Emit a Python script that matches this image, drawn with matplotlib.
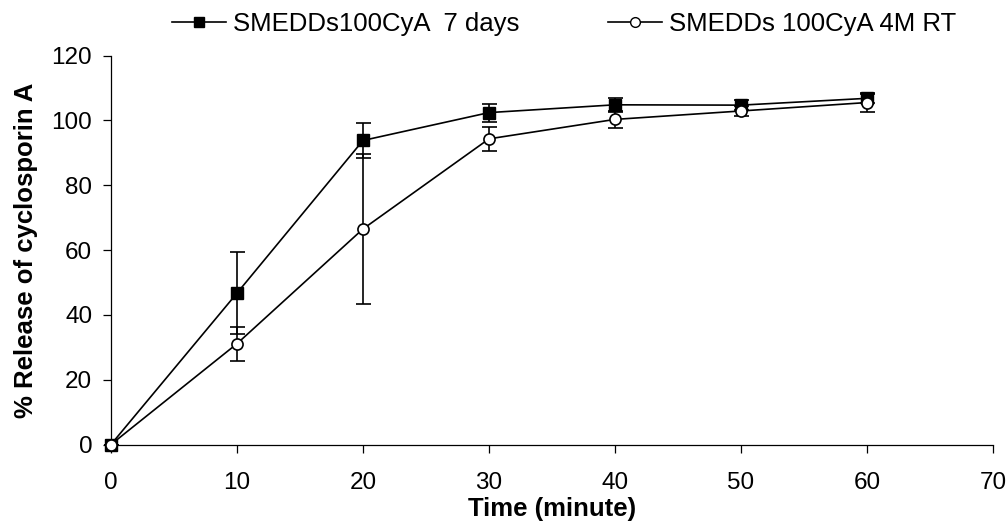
import matplotlib
matplotlib.use("Agg")
import matplotlib.pyplot as plt

plt.rcParams['font.family'] = ['Liberation Sans', 'DejaVu Sans']

time_min = [0, 10, 20, 30, 40, 50, 60]

# SMEDDs100CyA 7 days
rel_7d = [0, 46.7, 93.8, 102.4, 104.8, 104.7, 106.8]
err_7d = [0, 12.6, 5.3, 2.8, 2.1, 1.5, 1.3]

# SMEDDs 100CyA 4M RT
rel_4m = [0, 31.1, 66.5, 94.3, 100.3, 102.9, 105.5]
err_4m = [0, 5.2, 23.2, 3.6, 2.6, 1.6, 2.8]

labels = ['SMEDDs100CyA  7 days', 'SMEDDs 100CyA 4M RT']

fig = plt.figure(figsize=(10.07, 5.24), dpi=100)
ax = fig.add_axes([0.1102, 0.1517, 0.8759, 0.7423])

l1 = ax.errorbar(time_min, rel_7d, yerr=err_7d, color='black', lw=1.2,
                 marker='s', ms=8, mfc='black', mec='black',
                 capsize=5.4, elinewidth=1.2, capthick=1.2,
                 clip_on=False, zorder=3)
l2 = ax.errorbar(time_min, rel_4m, yerr=err_4m, color='black', lw=1.2,
                 marker='o', ms=8, mfc='white', mec='black', mew=1.2,
                 capsize=5.4, elinewidth=1.2, capthick=1.2,
                 clip_on=False, zorder=4)
for l in (l1, l2):
    for c in l[1] + l[2]:
        c.set_clip_on(False)

ax.set_xlim(0, 70)
ax.set_ylim(0, 120)
ax.set_xticks(range(0, 71, 10))
ax.set_yticks(range(0, 121, 20))
ax.spines['top'].set_visible(False)
ax.spines['right'].set_visible(False)
for s in ('left', 'bottom'):
    ax.spines[s].set_linewidth(0.9)
ax.tick_params(axis='both', direction='out', length=6, width=0.9, labelsize=17.5)
ax.tick_params(axis='x', pad=14)
ax.tick_params(axis='y', pad=7.5)

ax.set_xlabel('Time (minute)', fontsize=18.5, fontweight='bold', labelpad=2)
ax.set_ylabel('% Release of cyclosporin A', fontsize=18.5, fontweight='bold', labelpad=10)

# legend handles without error bars
h1, = ax.plot([], [], color='black', lw=1.2, marker='s', ms=7, mfc='black', mec='black')
h2, = ax.plot([], [], color='black', lw=1.2, marker='o', ms=7, mfc='white', mec='black')
fig.legend([h1, h2], labels, loc='center left', bbox_to_anchor=(0.171, 0.954),
           ncol=2, frameon=False, fontsize=18.5, handlelength=2.1,
           handletextpad=0.27, columnspacing=3.45, borderpad=0, borderaxespad=0)

fig.savefig('out.png', dpi=100)
